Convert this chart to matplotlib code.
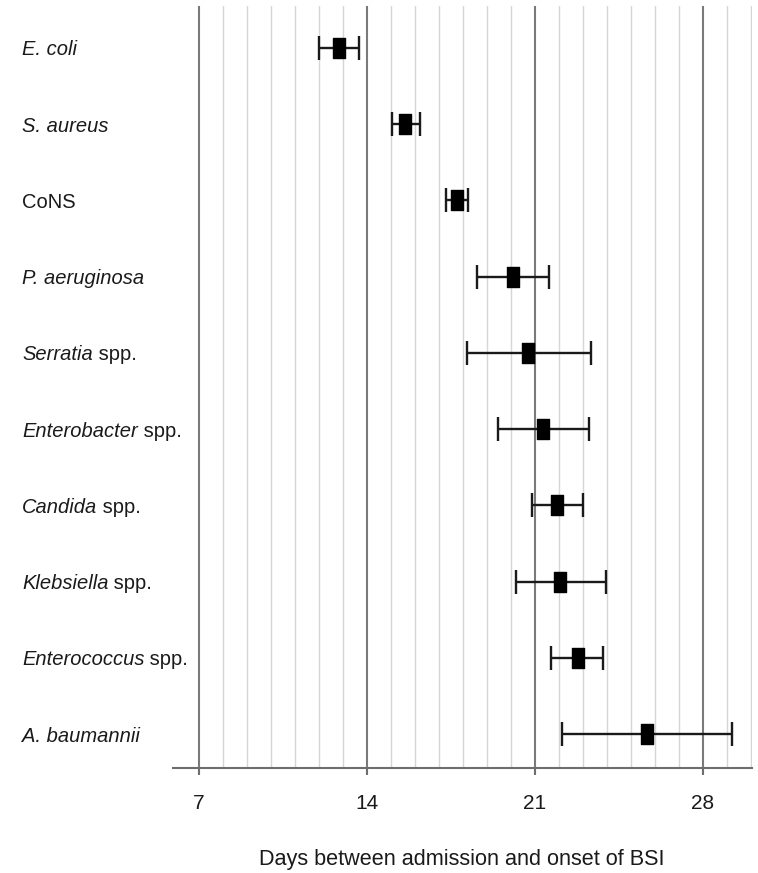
import matplotlib
matplotlib.use("Agg")
import matplotlib.pyplot as plt
from matplotlib.path import Path
import matplotlib.transforms as mtrans
import numpy as np

# ---- data ----
italic_part = ["E. coli", "S. aureus", "", "P. aeruginosa", "Serratia", "Enterobacter",
               "Candida", "Klebsiella", "Enterococcus", "A. baumannii"]
roman_part = ["", "", "CoNS", "", "spp.", "spp.", "spp.", "spp.", "spp.", ""]
median_days = [12.85, 15.6, 17.75, 20.1, 20.72, 21.32, 21.93, 22.06, 22.8, 25.67]
lower_days = [12.0, 15.05, 17.3, 18.6, 18.17, 19.46, 20.89, 20.2, 21.68, 22.14]
upper_days = [13.65, 16.2, 18.2, 21.6, 23.32, 23.24, 22.99, 23.95, 23.86, 29.2]
major_ticks = [7, 14, 21, 28]
minor_grid = list(range(7, 31))
xlabel = "Days between admission and onset of BSI"

plt.rcParams["font.family"] = ["Liberation Sans", "DejaVu Sans"]

W, H = 758, 873
fig = plt.figure(figsize=(W / 100, H / 100), dpi=100)
ax = fig.add_axes([173 / W, (H - 768) / H, (752 - 173) / W, (768 - 6) / H])

n = len(median_days)
ypos = np.arange(n)

# grid
for g in minor_grid:
    if g in major_ticks:
        continue
    ax.axvline(g, color="#d6d6d6", lw=1.0, zorder=0)
for g in major_ticks:
    ax.axvline(g, color="#7a7a7a", lw=1.5, zorder=0.5)

# rectangle marker
rect = Path([(-0.6, -1), (0.6, -1), (0.6, 1), (-0.6, 1), (-0.6, -1)],
            [Path.MOVETO, Path.LINETO, Path.LINETO, Path.LINETO, Path.CLOSEPOLY])

med = np.array(median_days)
err = np.vstack([med - np.array(lower_days), np.array(upper_days) - med])
ax.errorbar(med, ypos, xerr=err, fmt="none", ecolor="#1a1a1a", elinewidth=1.7,
            capsize=8.5, capthick=1.7, zorder=3)
ax.plot(med, ypos, linestyle="none", marker=rect, markersize=15,
        color="black", zorder=4)

ax.set_xlim(5.917, 30.05)
ax.set_ylim(9.446, -0.551)

for s in ["left", "top", "right"]:
    ax.spines[s].set_visible(False)
ax.spines["bottom"].set_color("#6e6e6e")
ax.spines["bottom"].set_linewidth(1.5)

ax.set_yticks([])
ax.set_xticks(major_ticks)
ax.set_xticklabels([str(t) for t in major_ticks], fontsize=15, color="#1a1a1a")
ax.tick_params(axis="x", length=5, width=1.5, color="#6e6e6e", pad=14)

# category labels
trans = mtrans.blended_transform_factory(mtrans.IdentityTransform(), ax.transData)
FS = 14.5
for i in range(n):
    if italic_part[i]:
        t1 = ax.text(22, i, italic_part[i], transform=trans, ha="left",
                     va="center_baseline", fontsize=FS, style="italic", color="#1a1a1a")
        if roman_part[i]:
            ax.annotate(" " + roman_part[i], xy=(1, 0), xycoords=t1, ha="left",
                        va="bottom", fontsize=FS, color="#1a1a1a")
    else:
        ax.text(22, i, roman_part[i], transform=trans, ha="left",
                va="center_baseline", fontsize=FS, color="#1a1a1a")

fig.text(462 / W, (H - 860) / H, xlabel, ha="center", va="center",
         fontsize=15.6, color="#1a1a1a")

fig.savefig("out.png", dpi=100, facecolor="white")
